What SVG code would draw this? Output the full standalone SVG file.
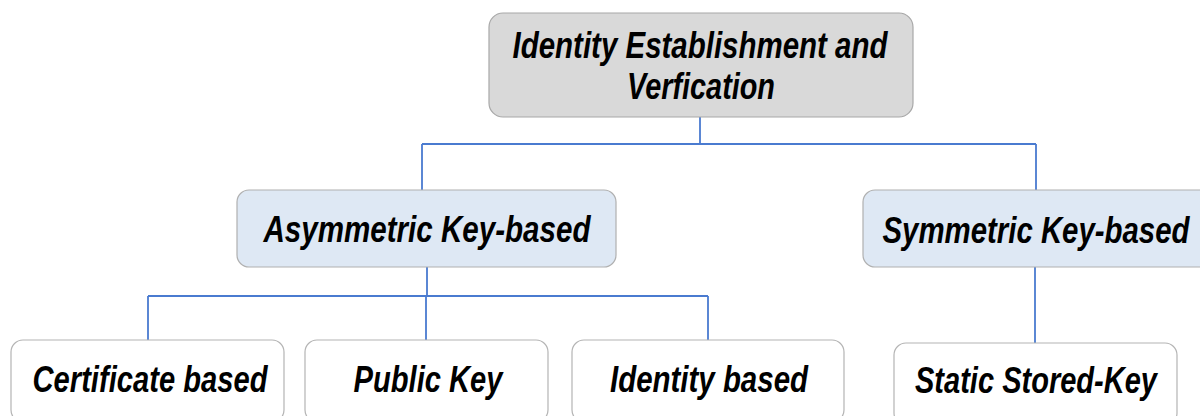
<svg xmlns="http://www.w3.org/2000/svg" width="1200" height="416" viewBox="0 0 1200 416">
  <style>
    .root { fill: #d9d9d9; stroke: #a8a8a8; stroke-width: 1.2; }
    .mid { fill: #dee8f4; stroke: #b0b0b0; stroke-width: 1.2; }
    .leaf { fill: #ffffff; stroke: #b4b4b4; stroke-width: 1.2; }
    .label { font-family: "Liberation Sans", Arial, sans-serif; font-weight: bold; font-style: italic; font-size: 36px; fill: #000000; text-anchor: middle; }
    .wire { fill: none; stroke: #4a7bd0; stroke-width: 1.8; }
  </style>

  <!-- connectors -->
  <g id="connectors">
    <path class="wire" d="M700 117 V144 M422 144 H1036 M422 144 V190 M1036 144 V190"/>
    <path class="wire" d="M427 267 V296 M148 296 H708 M148 296 V340 M426 296 V340 M708 296 V340"/>
    <path class="wire" d="M1035 267 V343"/>
  </g>

  <g id="identity-establishment">
    <rect class="root" x="489" y="13" width="424" height="104" rx="14"/>
    <text class="label" x="700" y="58" textLength="375" lengthAdjust="spacingAndGlyphs">Identity Establishment and</text>
    <text class="label" x="701" y="99" textLength="148" lengthAdjust="spacingAndGlyphs">Verfication</text>
  </g>

  <g id="asymmetric">
    <rect class="mid" x="237" y="190" width="379" height="77" rx="12"/>
    <text class="label" x="427" y="242" textLength="327" lengthAdjust="spacingAndGlyphs">Asymmetric Key-based</text>
  </g>

  <g id="symmetric">
    <rect class="mid" x="863" y="190" width="350" height="77" rx="12"/>
    <text class="label" x="1036" y="243" textLength="307" lengthAdjust="spacingAndGlyphs">Symmetric Key-based</text>
  </g>

  <g id="certificate">
    <rect class="leaf" x="11" y="340" width="273" height="82" rx="12"/>
    <text class="label" x="150" y="392" textLength="235" lengthAdjust="spacingAndGlyphs">Certificate based</text>
  </g>

  <g id="public-key">
    <rect class="leaf" x="305" y="340" width="243" height="82" rx="12"/>
    <text class="label" x="428" y="392" textLength="149" lengthAdjust="spacingAndGlyphs">Public Key</text>
  </g>

  <g id="identity-based">
    <rect class="leaf" x="572" y="340" width="272" height="82" rx="12"/>
    <text class="label" x="709" y="392" textLength="198" lengthAdjust="spacingAndGlyphs">Identity based</text>
  </g>

  <g id="static-stored-key">
    <rect class="leaf" x="894" y="343" width="283" height="82" rx="12"/>
    <text class="label" x="1036" y="393" textLength="242" lengthAdjust="spacingAndGlyphs">Static Stored-Key</text>
  </g>
</svg>
